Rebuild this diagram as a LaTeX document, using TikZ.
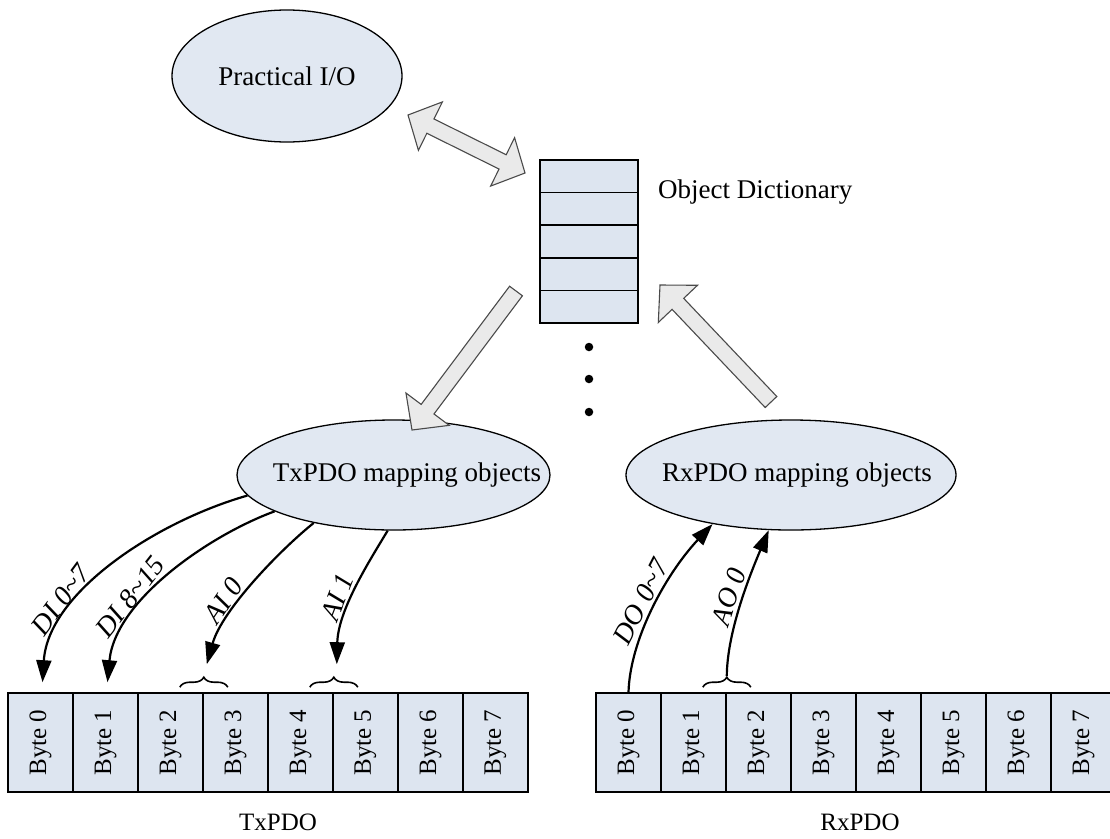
\documentclass[tikz,border=0pt]{standalone}
\usepackage{fontspec}
\setmainfont{Liberation Serif}
\usetikzlibrary{calc,decorations.pathreplacing,arrows.meta,shapes.geometric}
\definecolor{boxfill}{HTML}{DDE5F0}
\definecolor{ellfill}{HTML}{E1E8F2}
\definecolor{blkfill}{HTML}{EAEAEA}
\definecolor{blkline}{HTML}{4A4A4A}
\tikzset{
 bigtext/.style={font=\fontsize{27}{32}\selectfont},
 ell/.style={ellipse, draw=black, line width=1.3pt, fill=ellfill, inner sep=0pt, bigtext},
 bytebox/.style={draw=black, line width=1.6pt, fill=boxfill, minimum width=65pt, minimum height=99pt, inner sep=0pt, font=\fontsize{25}{30}\selectfont},
 odrow/.style={draw=black, line width=1.6pt, fill=boxfill, minimum width=98pt, minimum height=32.6pt, inner sep=0pt},
 maparrow/.style={line width=2.2pt, -{Triangle[length=22pt,width=15pt]}},
 maplabel/.style={sloped, above=2pt, inner sep=1pt, font=\fontsize{28}{32}\selectfont\itshape},
 bracestyle/.style={decorate, decoration={brace, amplitude=10pt}, line width=1.6pt},
 blockarrow/.style={draw=blkline, line width=1.1pt, fill=blkfill, line join=miter},
 dotnode/.style={circle, fill=black, inner sep=0pt, minimum size=8.5pt},
 pdolabel/.style={font=\fontsize{25}{30}\selectfont},
}
\newcommand\sglarrow[2]{%
  \coordinate (tmpB) at ($(#2)!26pt!(#1)$);
  \draw[blockarrow] ($(#1)!8pt!90:(#2)$) -- ($(tmpB)!8pt!90:(#2)$) -- ($(tmpB)!27pt!90:(#2)$) -- (#2)
    -- ($(tmpB)!27pt!-90:(#2)$) -- ($(tmpB)!8pt!-90:(#2)$) -- ($(#1)!8pt!-90:(#2)$) -- cycle;}
\newcommand\dblarrow[2]{%
  \coordinate (tmpA) at ($(#1)!25pt!(#2)$);
  \coordinate (tmpB) at ($(#2)!25pt!(#1)$);
  \draw[blockarrow] (#1) -- ($(tmpA)!27pt!90:(#2)$) -- ($(tmpA)!8pt!90:(#2)$) -- ($(tmpB)!8pt!90:(#2)$)
    -- ($(tmpB)!27pt!90:(#2)$) -- (#2) -- ($(tmpB)!27pt!-90:(#2)$) -- ($(tmpB)!8pt!-90:(#2)$)
    -- ($(tmpA)!8pt!-90:(#2)$) -- ($(tmpA)!27pt!-90:(#2)$) -- cycle;}
\begin{document}
\begin{tikzpicture}[x=1pt,y=1pt]
\fill[white] (0,0) rectangle (1110,-838);
\useasboundingbox (0,0) rectangle (1110,-838);

% ellipses
\node[ell, minimum width=230pt, minimum height=132pt] (pio) at (287,-76) {\makebox[0pt]{Practical I/O}};
\node[ell, minimum width=313pt, minimum height=110pt] (tx) at (393.5,-475) {\makebox[0pt]{\hspace*{27pt}TxPDO mapping objects}};
\node[ell, minimum width=330pt, minimum height=110pt] (rx) at (791,-475) {\makebox[0pt]{\hspace*{12pt}RxPDO mapping objects}};

% object dictionary
\foreach \i/\yy in {1/176.3,2/208.9,3/241.5,4/274.1,5/306.7}{
  \node[odrow] (od\i) at (589,-\yy) {};
}
\node[bigtext, anchor=west, inner sep=0pt] (odlabel) at (658,-192) {Object Dictionary};
\node[dotnode] (dot1) at (589,-347) {};
\node[dotnode] (dot2) at (589,-379) {};
\node[dotnode] (dot3) at (589,-412) {};

% block arrows
\coordinate (da1) at (408,-115);
\coordinate (da2) at (525,-173);
\dblarrow{da1}{da2}
\coordinate (sa1) at (516,-291);
\coordinate (sa2) at (412,-430);
\sglarrow{sa1}{sa2}
\coordinate (ua1) at (771,-402);
\coordinate (ua2) at (660,-285);
\sglarrow{ua1}{ua2}

% byte boxes
\foreach \i in {0,...,7}{
  \node[bytebox] (tb\i) at ({40.5+65*\i},-742.5) {\rotatebox{90}{Byte \i}};
  \node[bytebox] (rb\i) at ({628.5+65*\i},-742.5) {\rotatebox{90}{Byte \i}};
}
\node[pdolabel] (txlabel) at (278,-822) {TxPDO};
\node[pdolabel] (rxlabel) at (860,-822) {RxPDO};

% braces
\draw[bracestyle] ($(tb2.north east)+(-24,5)$) -- ($(tb2.north east)+(24,5)$);
\coordinate (tbr1) at ($(tb2.north east)+(3,16)$);
\draw[bracestyle] ($(tb4.north east)+(-24,5)$) -- ($(tb4.north east)+(24,5)$);
\coordinate (tbr2) at ($(tb4.north east)+(3,16)$);
\draw[bracestyle] ($(rb1.north east)+(-24,5)$) -- ($(rb1.north east)+(24,5)$);
\coordinate (rbr1) at ($(rb1.north east)+(0,16)$);

% mapping arrows
\draw[maparrow] (tx.188) .. controls (155,-522) and (48,-593) .. ([xshift=2pt,yshift=10pt]tb0.north)
  node[maplabel, pos=0.7] {DI 0\textasciitilde 7};
\draw[maparrow] (tx.197) .. controls (210,-535) and (115,-600) .. ([xshift=2pt,yshift=10pt]tb1.north)
  node[maplabel, pos=0.66] {DI 8\textasciitilde 15};
\draw[maparrow] (tx.211) .. controls (280,-550) and (222,-610) .. ([yshift=12pt]tbr1)
  node[maplabel, pos=0.66] {AI 0};
\draw[maparrow] (tx.264) .. controls (370,-560) and (338,-610) .. ([yshift=12pt]tbr2)
  node[maplabel, pos=0.6] {AI 1};
\draw[maparrow] (rb0.north) .. controls (630,-640) and (665,-575) .. (rx.212)
  node[maplabel, pos=0.5] {DO 0\textasciitilde 7};
\draw[maparrow] (rbr1) .. controls (727,-630) and (752,-570) .. (rx.248)
  node[maplabel, pos=0.5] {AO 0};
\end{tikzpicture}
\end{document}
